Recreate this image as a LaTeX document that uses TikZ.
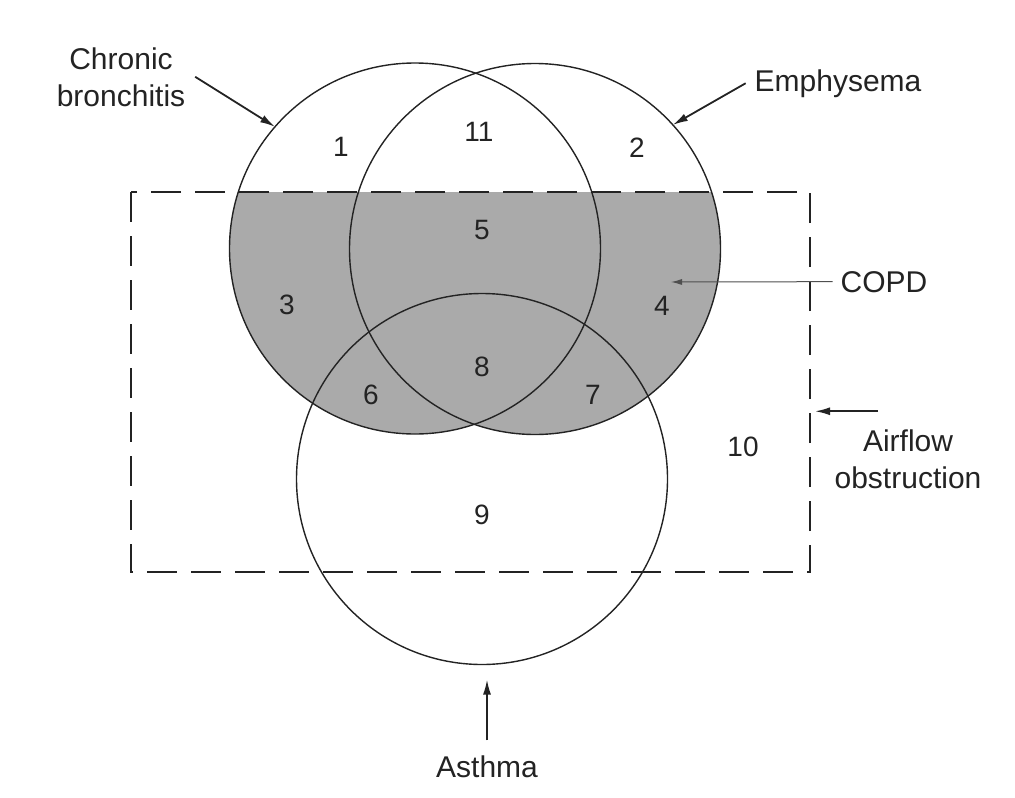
\documentclass[tikz,border=0pt]{standalone}
\usepackage{fontspec}
\setmainfont{Liberation Sans}
\usetikzlibrary{arrows.meta}
\definecolor{copdgray}{RGB}{170,170,170}
\definecolor{ink}{RGB}{35,35,35}
\begin{document}
\begin{tikzpicture}[x=1pt,y=-1pt,
  lbl/.style={font=\fontsize{30}{37}\selectfont, text=ink, inner sep=0pt, outer sep=0pt, align=center},
  num/.style={font=\fontsize{28}{30}\selectfont, text=ink, inner sep=0pt},
  vcirc/.style={circle, draw=ink, line width=1.4pt, minimum size=371pt, inner sep=0pt, outer sep=0pt},
  obox/.style={draw=ink, line width=2.1pt, dash pattern=on 30pt off 14pt},
  ptr/.style={draw=ink, line width=1.8pt, -{Latex[length=15pt,width=8pt]}},
  thinptr/.style={draw=ink!80, line width=1pt, -{Latex[length=11pt,width=6pt]}},
]
\useasboundingbox (0,0) rectangle (1015,798);
% shaded COPD region
\begin{scope}
  \clip (131,192) rectangle (810,572);
  \fill[copdgray] (415,248.5) circle[radius=185.5pt];
  \fill[copdgray] (535,249) circle[radius=185.5pt];
\end{scope}
% circles
\node[vcirc] (L) at (415,248.5) {};
\node[vcirc] (R) at (535,249) {};
\node[vcirc] (B) at (482,479) {};
% airflow obstruction box
\draw[obox] (131,192) rectangle (810,572);
% region numbers
\node[num] (n1) at (341,147) {1};
\node[num] (n11) at (479,132) {11};
\node[num] (n2) at (637,148) {2};
\node[num] (n5) at (482,230) {5};
\node[num] (n3) at (287,305) {3};
\node[num] (n4) at (662,306) {4};
\node[num] (n6) at (371,395) {6};
\node[num] (n8) at (482,367) {8};
\node[num] (n7) at (593,395) {7};
\node[num] (n9) at (482,515) {9};
\node[num] (n10) at (743,447) {10};
% labels
\node[lbl, anchor=base] (chr) at (121,106) {Chronic\\bronchitis};
\node[lbl, anchor=base] (emph) at (838,91) {Emphysema};
\node[lbl, anchor=base] (copd) at (884,292) {COPD};
\node[lbl, anchor=base] (air) at (908,488) {Airflow\\obstruction};
\node[lbl, anchor=base] (asth) at (487,777) {Asthma};
\coordinate (copdtip) at (671,282);
\coordinate (airtip) at (815,415);
\path ([shift={(-30,-18)}]air.north) coordinate (airtail);
% pointers
\draw[ptr] ([xshift=10pt]chr.east) -- (L.139.5);
\draw[ptr] ([xshift=-9pt]emph.west) -- (R.42.6);
\draw[thinptr] ([xshift=-8pt]copd.west) -- (copdtip);
\draw[ptr] (airtail) -- (airtail -| airtip);
\draw[ptr] ([yshift=15pt]asth.north) -- ([yshift=-15pt]asth.north |- B.south);
\end{tikzpicture}
\end{document}
